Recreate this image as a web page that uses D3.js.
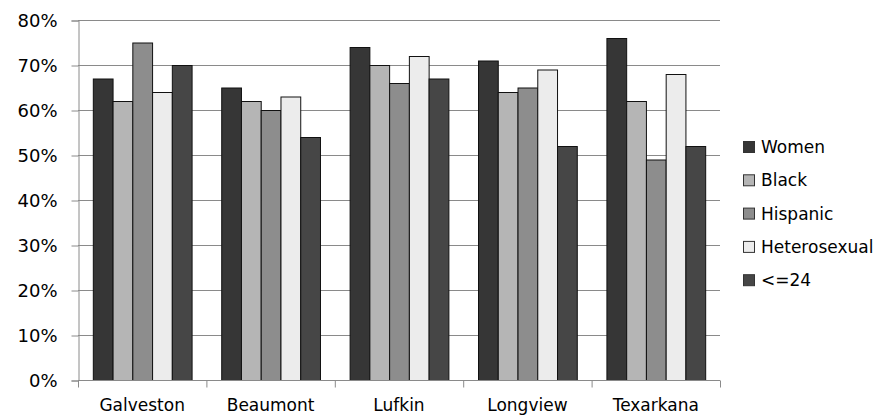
<!DOCTYPE html>
<html lang="en">
<head>
  <meta charset="UTF-8">
  <title>grouped bars</title>
  <style>
    * { padding: 0; margin: 0; }
    body { background: #fff; }
    text { font-family: "DejaVu Sans", sans-serif; fill: #000; }
  </style>
</head>
<body>
  <script src="https://d3js.org/d3.v7.min.js"></script>
  <script>
    const width = 889;
    const height = 420;

    const cities = ['Galveston', 'Beaumont', 'Lufkin', 'Longview', 'Texarkana'];
    const groups = ['Women', 'Black', 'Hispanic', 'Heterosexual', '<=24'];
    const colors = ['#363636', '#b5b5b5', '#8d8d8d', '#ececec', '#464646'];
    const women = [67, 65, 74, 71, 76];
    const black = [62, 62, 70, 64, 62];
    const hispanic = [75, 60, 66, 65, 49];
    const hetero = [64, 63, 72, 69, 68];
    const young = [70, 54, 67, 52, 52];
    const yTicks = [0, 10, 20, 30, 40, 50, 60, 70, 80];

    const seriesValues = [women, black, hispanic, hetero, young];

    const margin = { top: 20, right: 169, bottom: 40, left: 78 };

    const svg = d3.select('body')
      .append('svg')
      .attr('width', width)
      .attr('height', height);

    const x = d3.scaleBand()
      .domain(cities)
      .range([margin.left, width - margin.right]);

    // gap width 150% like the office default
    const barW = x.bandwidth() / 6.5;
    const x1 = d3.scaleBand()
      .domain(groups)
      .range([barW * 0.75, barW * 5.75]);

    const y = d3.scaleLinear()
      .domain([0, 80])
      .range([height - margin.bottom, margin.top]);

    // grid
    svg.append('g')
      .selectAll('line')
      .data(yTicks.slice(1))
      .join('line')
      .attr('x1', margin.left)
      .attr('x2', width - margin.right)
      .attr('y1', d => y(d) + 0.5)
      .attr('y2', d => y(d) + 0.5)
      .attr('stroke', '#8a8a8a')
      .attr('stroke-width', 1);

    // y axis
    const yAxis = svg.append('g')
      .attr('transform', `translate(${margin.left + 0.5},0.5)`)
      .call(d3.axisLeft(y).tickValues(yTicks).tickSize(7).tickPadding(14).tickFormat(d => d + '%'));
    yAxis.select('.domain').attr('stroke', '#8a8a8a');
    yAxis.selectAll('.tick line').attr('stroke', '#8a8a8a');
    yAxis.selectAll('text').attr('font-size', 18).attr('dy', '0.35em');

    // bars
    const data = [];
    cities.forEach((c, i) => {
      groups.forEach((g, j) => {
        data.push({ city: c, group: g, value: seriesValues[j][i], color: colors[j] });
      });
    });

    svg.append('g')
      .selectAll('rect')
      .data(data)
      .join('rect')
      .attr('x', d => x(d.city) + x1(d.group) + 0.5)
      .attr('y', d => y(d.value) + 0.5)
      .attr('width', x1.bandwidth())
      .attr('height', d => y(0) - y(d.value))
      .attr('fill', d => d.color)
      .attr('stroke', '#111')
      .attr('stroke-width', 1);

    // x axis
    const xAxisG = svg.append('g')
      .attr('transform', `translate(0,${y(0) + 0.5})`);
    xAxisG.append('line')
      .attr('x1', margin.left)
      .attr('x2', width - margin.right)
      .attr('stroke', '#8a8a8a');
    xAxisG.selectAll('.sep')
      .data(d3.range(cities.length + 1))
      .join('line')
      .attr('class', 'sep')
      .attr('x1', i => margin.left + i * x.step() + 0.5)
      .attr('x2', i => margin.left + i * x.step() + 0.5)
      .attr('y1', 0)
      .attr('y2', 7)
      .attr('stroke', '#8a8a8a');
    xAxisG.selectAll('.lbl')
      .data(cities)
      .join('text')
      .attr('class', 'lbl')
      .attr('x', d => x(d) + x.bandwidth() / 2)
      .attr('y', 30)
      .attr('text-anchor', 'middle')
      .attr('font-size', 17)
      .text(d => d);

    // legend
    const legend = svg.append('g')
      .attr('transform', 'translate(743,147)');
    const item = legend.selectAll('g')
      .data(groups)
      .join('g')
      .attr('transform', (d, i) => `translate(0,${i * 33.3})`);
    item.append('rect')
      .attr('x', 0.5)
      .attr('y', -5.5)
      .attr('width', 11)
      .attr('height', 11)
      .attr('fill', (d, i) => colors[i])
      .attr('stroke', '#333');
    item.append('text')
      .attr('x', 18)
      .attr('dy', '0.35em')
      .attr('font-size', 17)
      .text(d => d);
  </script>
</body>
</html>
